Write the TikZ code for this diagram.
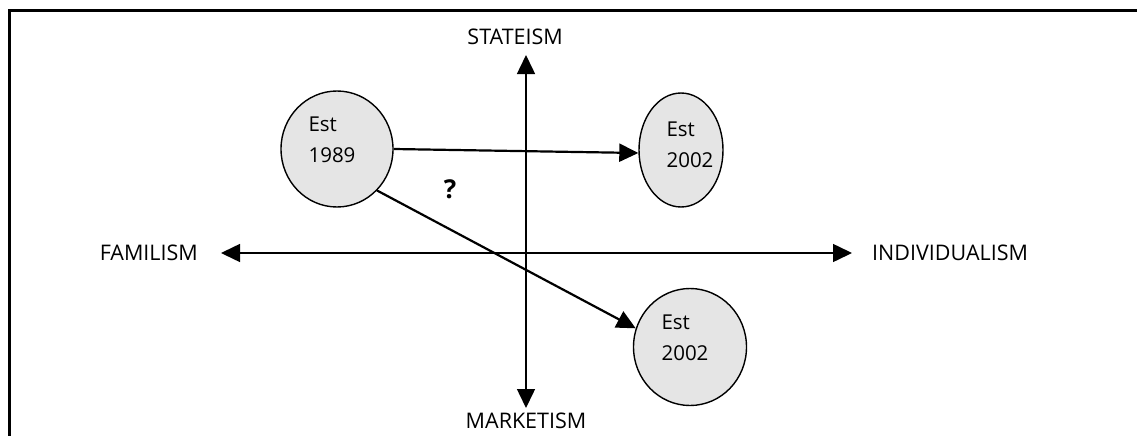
\documentclass[tikz,border=0pt]{standalone}
\usepackage{fontspec}
\setmainfont{Open Sans}
\usetikzlibrary{shapes.geometric,arrows.meta}
\tikzset{
  axislabel/.style={font=\fontsize{21.5}{26}\selectfont, inner sep=0pt},
  bubble/.style={draw=black, line width=1.4pt, fill=black!10, inner sep=0pt},
  btext/.style={font=\fontsize{20.5}{31}\selectfont, align=left, inner sep=0pt},
  axis/.style={line width=1.5pt, {Triangle[length=19pt,width=18pt]}-{Triangle[length=19pt,width=18pt]}},
  conn/.style={line width=2.2pt, -{Triangle[length=19pt,width=18pt]}},
}
\begin{document}
\begin{tikzpicture}[x=1pt,y=-1pt]
\useasboundingbox (0,0) rectangle (1137,436);
\draw[line width=3pt] (9,436) -- (9,11) -- (1137,11);
% axes
\coordinate (L) at (221,253);
\coordinate (R) at (852,253);
\coordinate (T) at (526,55);
\coordinate (B) at (526,408);
\draw[axis] (L) -- (R);
\draw[axis] (B) -- (T);
\node[axislabel, anchor=east] (fam) at (198,253) {FAMILISM};
\node[axislabel, anchor=west] (ind) at (872,253) {INDIVIDUALISM};
\node[axislabel, anchor=east] (sta) at (563,37) {STATEISM};
\node[axislabel] (mar) at (526,421) {MARKETISM};
% bubbles
\node[bubble, ellipse, minimum width=112pt, minimum height=116pt] (c1) at (337,149) {};
\node[btext] (t1) at (332,140) {Est\\1989};
\node[bubble, ellipse, minimum width=84pt, minimum height=114pt] (c2) at (681,150) {};
\node[btext] (t2) at (690,145) {Est\\2002};
\node[bubble, ellipse, minimum width=113pt, minimum height=117pt] (c3) at (690,347) {};
\node[btext] (t3) at (685,338) {Est\\2002};
\node[font=\bfseries\fontsize{26}{30}\selectfont, inner sep=0pt] (q) at (450,189) {?};
% connectors
\draw[conn] (c1.east) -- ([yshift=-3pt]c2.west);
\draw[conn] (c1.-46) -- (c3.161);
\end{tikzpicture}
\end{document}
